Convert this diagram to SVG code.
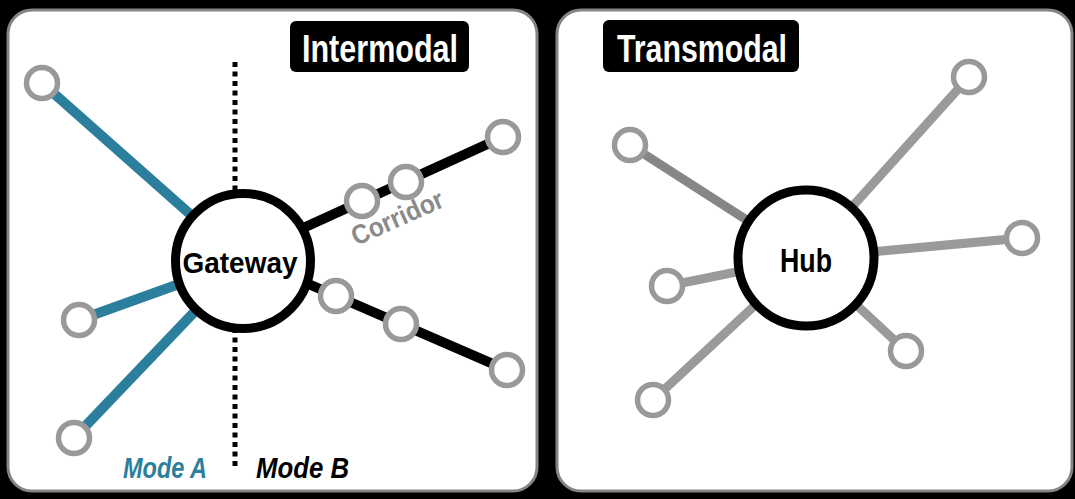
<svg xmlns="http://www.w3.org/2000/svg" width="1075" height="499" viewBox="0 0 1075 499">
<style>
.panel{fill:#ffffff;stroke:#858585;stroke-width:3}
.tag{fill:#000000}
.tagtxt{font-family:"Liberation Sans",Arial,sans-serif;font-weight:bold;font-size:38px;fill:#ffffff;text-anchor:middle}
.stop{fill:#ffffff;stroke:#999999;stroke-width:5.5}
.big{fill:#ffffff;stroke:#000000;stroke-width:9}
.bigtxt{font-family:"Liberation Sans",Arial,sans-serif;font-weight:bold;fill:#000000;text-anchor:middle}
.teal{stroke:#2b7f9c;stroke-width:10;fill:none}
.blk{stroke:#000000;stroke-width:10;fill:none}
.gry{stroke:#9a9a9a;stroke-width:9;fill:none}
.gryd{stroke:#868686;stroke-width:9;fill:none}
.lbl{font-family:"Liberation Sans",Arial,sans-serif;font-weight:bold;font-style:italic;font-size:29px}
</style>
<rect x="0" y="0" width="1075" height="499" fill="#000000"/>
<g id="panel-intermodal">
<rect class="panel" x="8" y="10" width="529" height="481" rx="24"/>
<rect class="tag" x="290" y="21" width="179" height="51" rx="6"/>
<text class="tagtxt" x="380" y="62" textLength="156" lengthAdjust="spacingAndGlyphs">Intermodal</text>
</g>
<g id="panel-transmodal">
<rect class="panel" x="557" y="10" width="515" height="481" rx="24"/>
<rect class="tag" x="603" y="20" width="196" height="52" rx="6"/>
<text class="tagtxt" x="702" y="62" textLength="170" lengthAdjust="spacingAndGlyphs">Transmodal</text>
</g>
<g id="connectors">
<line x1="235" y1="62" x2="235" y2="467" stroke="#000000" stroke-width="5" stroke-dasharray="5 4.5"/>
<line class="teal" x1="42" y1="83" x2="243" y2="261"/>
<line class="teal" x1="79" y1="320" x2="243" y2="261"/>
<line class="teal" x1="74" y1="438" x2="243" y2="261"/>
<line class="blk" x1="290" y1="234" x2="503" y2="137"/>
<line class="blk" x1="290" y1="276" x2="507" y2="370"/>
<line class="gryd" x1="630" y1="145" x2="806" y2="258"/>
<line class="gry" x1="969" y1="77" x2="806" y2="258"/>
<line class="gry" x1="1022" y1="238" x2="806" y2="258"/>
<line class="gry" x1="667" y1="286" x2="806" y2="258"/>
<line class="gry" x1="653" y1="400" x2="806" y2="258"/>
<line class="gry" x1="906" y1="351" x2="806" y2="258"/>
<text x="0" y="0" transform="translate(401 226) rotate(-24)" font-family="Liberation Sans, Arial, sans-serif" font-weight="bold" font-size="27" fill="#8a8a8a" text-anchor="middle" textLength="98" lengthAdjust="spacingAndGlyphs">Corridor</text>
</g>
<g id="node-gateway">
<circle class="big" cx="243" cy="261" r="67.5"/>
<text class="bigtxt" x="240" y="273" font-size="30" textLength="115" lengthAdjust="spacingAndGlyphs">Gateway</text>
</g>
<g id="node-hub">
<circle class="big" cx="806" cy="258" r="68"/>
<text class="bigtxt" x="806" y="272" font-size="34" textLength="52" lengthAdjust="spacingAndGlyphs">Hub</text>
</g>
<g id="node-a1"><circle class="stop" cx="42" cy="83" r="15.5"/></g>
<g id="node-a2"><circle class="stop" cx="79" cy="320" r="15.5"/></g>
<g id="node-a3"><circle class="stop" cx="74" cy="438" r="15.5"/></g>
<g id="node-c1"><circle class="stop" cx="362" cy="201" r="15.5"/></g>
<g id="node-c2"><circle class="stop" cx="406" cy="182" r="15.5"/></g>
<g id="node-c3"><circle class="stop" cx="503" cy="137" r="15.5"/></g>
<g id="node-b1"><circle class="stop" cx="336" cy="296" r="15.5"/></g>
<g id="node-b2"><circle class="stop" cx="401" cy="324" r="15.5"/></g>
<g id="node-b3"><circle class="stop" cx="507" cy="370" r="15.5"/></g>
<g id="node-t1"><circle class="stop" cx="630" cy="145" r="15.5"/></g>
<g id="node-t2"><circle class="stop" cx="969" cy="77" r="15.5"/></g>
<g id="node-t3"><circle class="stop" cx="1022" cy="238" r="15.5"/></g>
<g id="node-t4"><circle class="stop" cx="667" cy="286" r="15.5"/></g>
<g id="node-t5"><circle class="stop" cx="653" cy="400" r="15.5"/></g>
<g id="node-t6"><circle class="stop" cx="906" cy="351" r="15.5"/></g>
<g id="labels">
<text class="lbl" x="123" y="478" fill="#2b7f9c" textLength="84" lengthAdjust="spacingAndGlyphs">Mode A</text>
<text class="lbl" x="256" y="478" fill="#000000" textLength="93" lengthAdjust="spacingAndGlyphs">Mode B</text>
</g>
</svg>
